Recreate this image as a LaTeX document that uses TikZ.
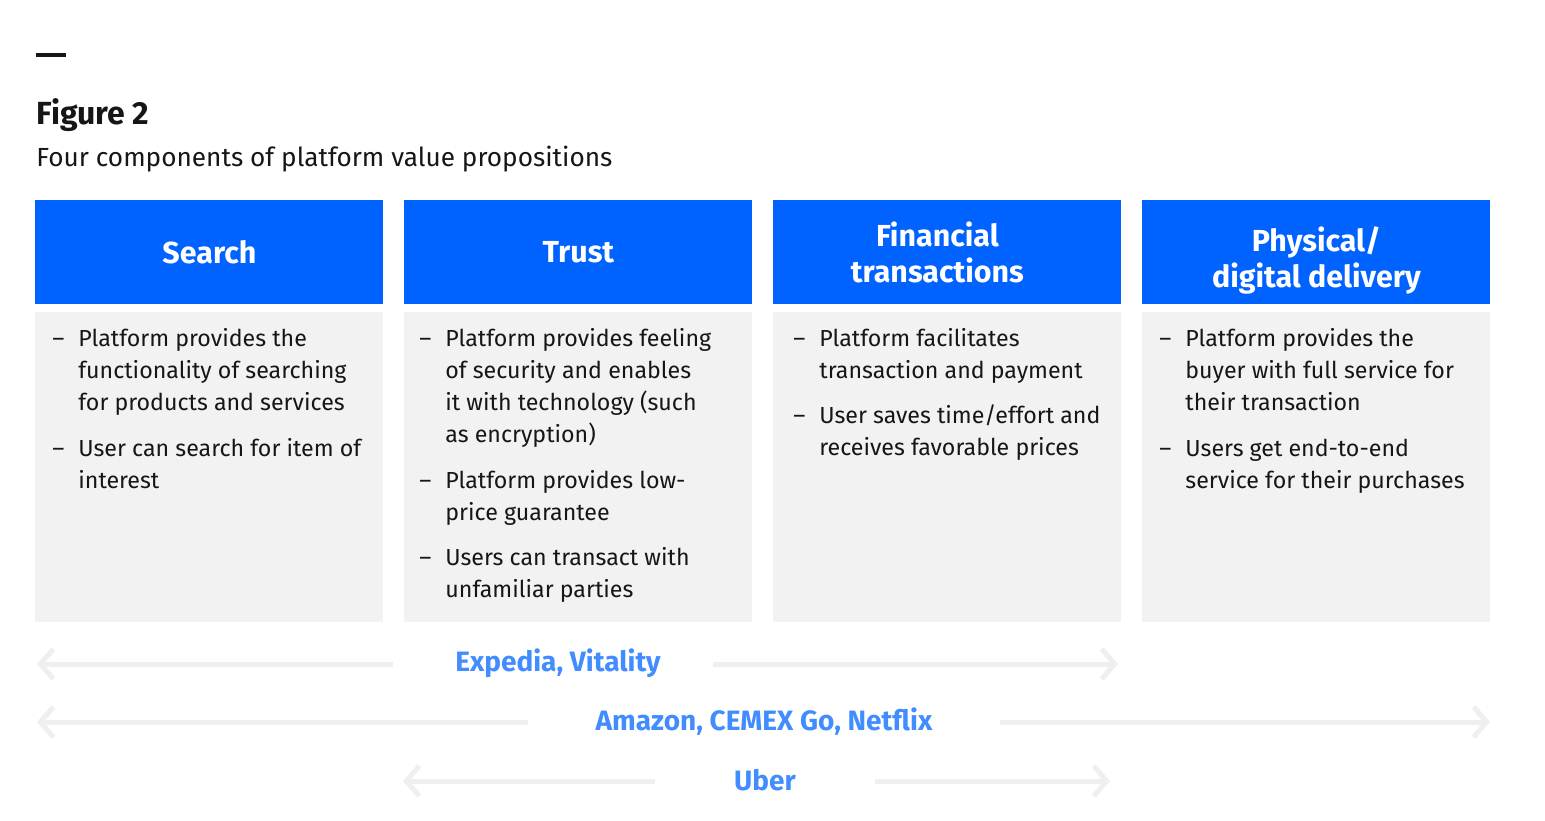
\documentclass[tikz,border=0pt]{standalone}
\usepackage{fontspec}
\setmainfont{Fira Sans}
\usetikzlibrary{arrows.meta}
\definecolor{ibmblue}{HTML}{0062FF}
\definecolor{labblue}{HTML}{418CFF}
\definecolor{panelgray}{HTML}{F2F2F2}
\definecolor{arrowgray}{HTML}{EFEFEF}
\definecolor{ink}{HTML}{161616}
\newcommand{\dsh}{\textendash}
\begin{document}
\begin{tikzpicture}[x=0.5pt,y=-0.5pt,
  head/.style={fill=ibmblue, text=white, font=\bfseries\fontsize{15.2}{18}\selectfont,
    minimum width=174pt, minimum height=52pt, inner sep=0pt, anchor=north west, align=center},
  panel/.style={fill=panelgray, minimum width=174pt, minimum height=155pt, inner sep=0pt, anchor=north west},
  body/.style={anchor=north west, inner sep=0pt, text=ink, font=\fontsize{11.6}{16}\selectfont},
  lab/.style={text=labblue, font=\bfseries\fontsize{14}{16}\selectfont, inner sep=0pt},
  arr/.style={draw=arrowgray, line width=2.5pt, -{Straight Barb[length=6.5pt,width=15pt]}}
]
\useasboundingbox (0,0) rectangle (1545,820);
\fill[white] (0,0) rectangle (1545,820);
% top mark
\draw[line width=1.6pt, ink] (36,55) -- (66,55);
\node[anchor=base west, inner sep=0pt, text=ink, font=\bfseries\fontsize{16}{19}\selectfont] (fig) at (36,124) {Figure 2};
\node[anchor=base west, inner sep=0pt, text=ink, font=\fontsize{13.1}{16}\selectfont] (sub) at (36,166) {Four components of platform value propositions};
% headers
\node[head] (h1) at (35,200) {Search};
\node[head] (h2) at (404,200) {Trust};
\node[head] (h3) at (773,200) {\hspace*{-10pt}Financial\\\hspace*{-10pt}transactions};
\node[head] (h4) at (1142,200) {\rule{0pt}{20pt}Physical/\\digital delivery};
% panels
\node[panel] (p1) at (35,312) {};
\node[panel] (p2) at (404,312) {};
\node[panel] (p3) at (773,312) {};
\node[panel] (p4) at (1142,312) {};
% body text
\node[body] (t1) at (52,324) {\begin{tabular}{@{}p{13pt}@{}l@{}}
\dsh & Platform provides the\\
 & functionality of searching\\
 & for products and services\\[7pt]
\dsh & User can search for item of\\
 & interest
\end{tabular}};
\node[body] (t2) at (419,324) {\begin{tabular}{@{}p{13pt}@{}l@{}}
\dsh & Platform provides feeling\\
 & of security and enables\\
 & it with technology (such\\
 & as encryption)\\[7pt]
\dsh & Platform provides low-\\
 & price guarantee\\[6.5pt]
\dsh & Users can transact with\\
 & unfamiliar parties
\end{tabular}};
\node[body] (t3) at (793,324) {\begin{tabular}{@{}p{13pt}@{}l@{}}
\dsh & Platform facilitates\\
 & transaction and payment\\[6.5pt]
\dsh & User saves time/effort and\\
 & receives favorable prices
\end{tabular}};
\node[body] (t4) at (1159,324) {\begin{tabular}{@{}p{13pt}@{}l@{}}
\dsh & Platform provides the\\
 & buyer with full service for\\
 & their transaction\\[7pt]
\dsh & Users get end-to-end\\
 & service for their purchases
\end{tabular}};
% labels and arrows
\node[lab, minimum width=160pt] (l1) at (553,663) {\hspace*{5pt}Expedia, Vitality};
\node[lab, minimum width=236pt] (l2) at (764,722) {Amazon, CEMEX Go, Netflix};
\node[lab, minimum width=110pt] (l3) at (765,780) {Uber};
\coordinate (l1a) at (37,664);
\coordinate (l1b) at (1118,664);
\coordinate (l2a) at (37,722);
\coordinate (l2b) at (1490,722);
\coordinate (l3a) at (403,781);
\coordinate (l3b) at (1110,781);
\draw[arr] (l1.west |- l1a) -- (l1a);
\draw[arr] (l1.east |- l1b) -- (l1b);
\draw[arr] (l2.west |- l2a) -- (l2a);
\draw[arr] (l2.east |- l2b) -- (l2b);
\draw[arr] (l3.west |- l3a) -- (l3a);
\draw[arr] (l3.east |- l3b) -- (l3b);
\end{tikzpicture}
\end{document}
